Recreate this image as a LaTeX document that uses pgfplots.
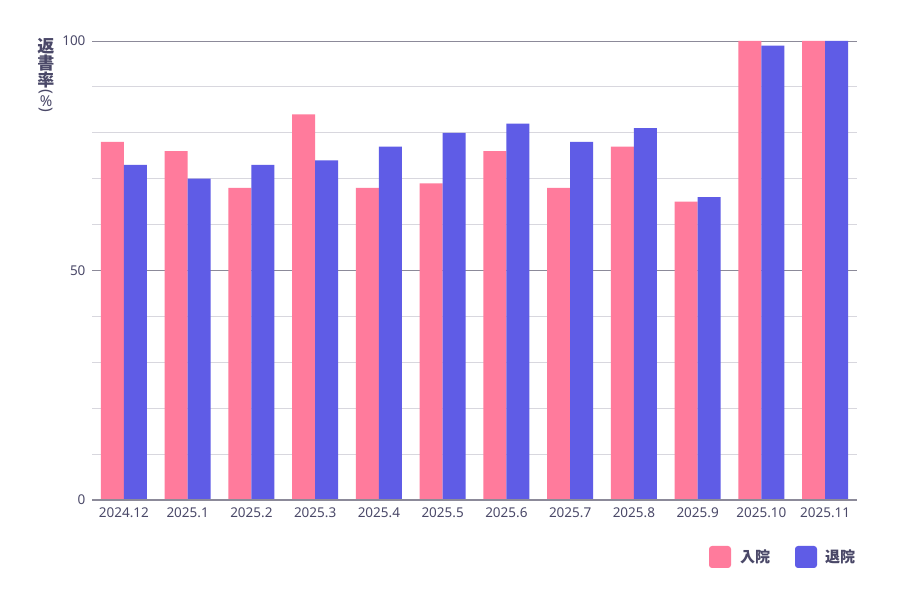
\documentclass[border=0pt]{standalone}
\usepackage{pgfplots}
\pgfplotsset{compat=1.18}
\usepackage{fontspec}
\setmainfont{Noto Sans CJK JP}
\newfontfamily\latinfont{Noto Sans}
\definecolor{pinkbar}{HTML}{FF7B9C}
\definecolor{bluebar}{HTML}{5F5CE6}
\definecolor{txt}{HTML}{4A4868}
\definecolor{majgrid}{HTML}{8C8A99}
\definecolor{mingrid}{HTML}{D8D7DE}
\begin{document}
\begin{tikzpicture}[x=1pt,y=1pt]
\path[fill=white] (0,0) rectangle (900,600);
\begin{axis}[
  at={(92pt,100pt)}, anchor=south west,
  scale only axis, width=765pt, height=459pt,
  xmin=-0.5, xmax=11.5, ymin=0, ymax=100,
  ybar=0pt, bar width=23pt,
  xtick={0,...,11},
  xticklabels={2024.12,2025.1,2025.2,2025.3,2025.4,2025.5,2025.6,2025.7,2025.8,2025.9,2025.10,2025.11},
  ytick={0,50,100}, yticklabels={0,50,100},
  minor ytick={10,20,30,40,60,70,80,90},
  ymajorgrids, yminorgrids,
  major grid style={draw=majgrid, line width=0.9pt},
  minor grid style={draw=mingrid, line width=0.8pt},
  axis line style={draw=none},
  major tick length=0pt, minor tick length=0pt,
  tick label style={font=\latinfont\fontsize{13.5}{13.5}\selectfont, text=txt},
  xticklabel style={yshift=-4pt},
  yticklabel style={xshift=-3pt},
  clip=false,
]
\addplot[fill=pinkbar, draw=none] coordinates {(0,78) (1,76) (2,68) (3,84) (4,68) (5,69) (6,76) (7,68) (8,77) (9,65) (10,100) (11,100)};
\addplot[fill=bluebar, draw=none] coordinates {(0,73) (1,70) (2,73) (3,74) (4,77) (5,80) (6,82) (7,78) (8,81) (9,66) (10,99) (11,100)};
\draw[majgrid, line width=1.4pt] (axis cs:-0.5,0) -- (axis cs:11.5,0);
\end{axis}
\begin{scope}[every node/.style={text=txt, font=\fontsize{17}{17}\selectfont\bfseries, inner sep=0pt}]
\node at (46,554) {返};
\node at (46,537) {書};
\node at (46,520) {率};
\node[rotate=-90, font=\latinfont\fontsize{16}{16}\selectfont] at (46,508) {(};
\node[font=\latinfont\fontsize{15}{15}\selectfont\bfseries] at (46,499) {\%};
\node[rotate=-90, font=\latinfont\fontsize{16}{16}\selectfont] at (46,490) {)};
\end{scope}
\fill[pinkbar, rounded corners=3pt] (709,32) rectangle (731,54);
\node[anchor=west, text=txt, font=\fontsize{15}{15}\selectfont\bfseries, inner sep=0pt] at (740,43) {入院};
\fill[bluebar, rounded corners=3pt] (795,32) rectangle (817,54);
\node[anchor=west, text=txt, font=\fontsize{15}{15}\selectfont\bfseries, inner sep=0pt] at (825,43) {退院};
\end{tikzpicture}
\end{document}
